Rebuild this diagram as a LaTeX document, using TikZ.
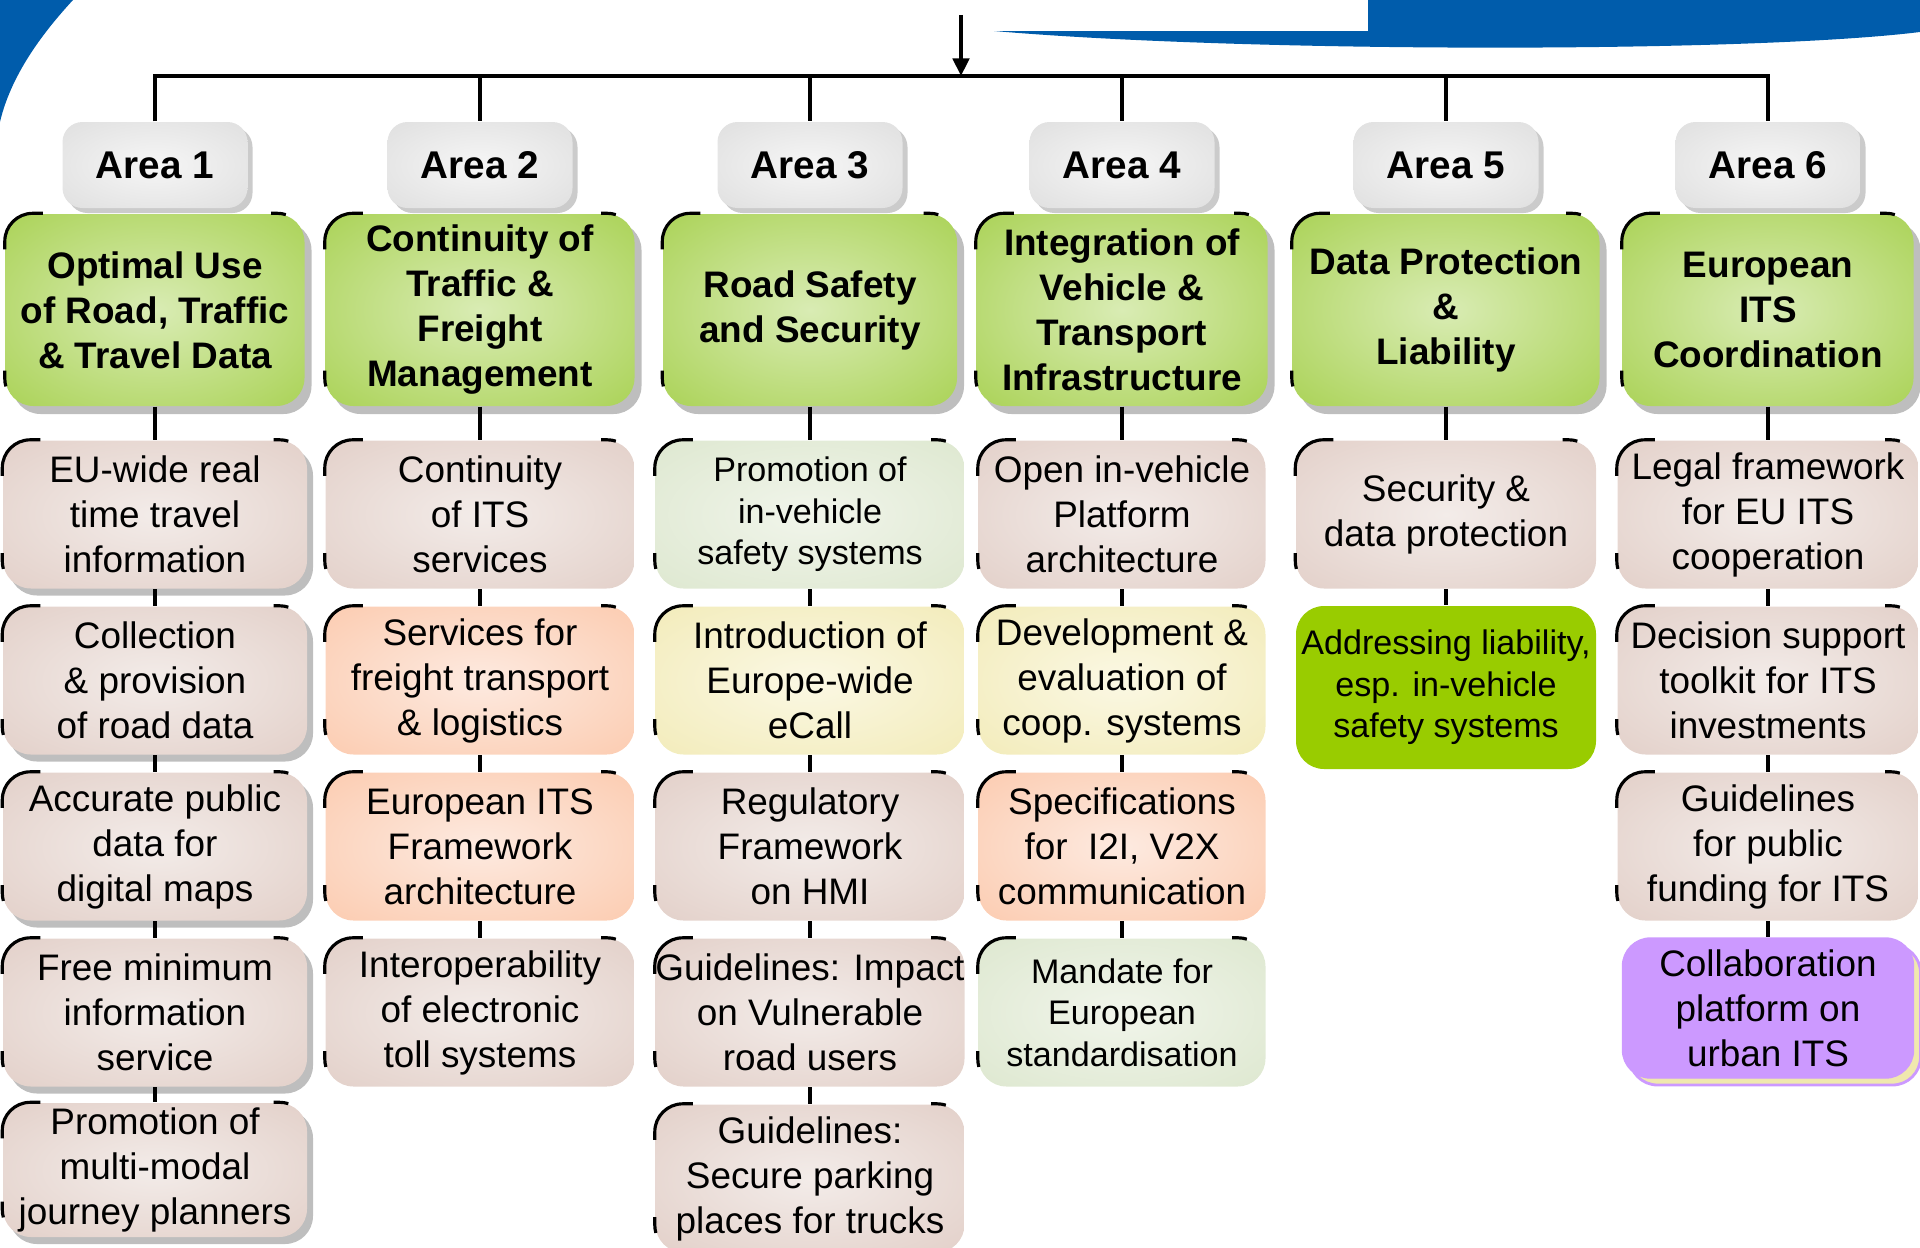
\documentclass[tikz,border=0pt]{standalone}
\usepackage{fontspec}
\setmainfont{Liberation Sans}
\usetikzlibrary{arrows.meta,calc,shadows}
\definecolor{swoosh}{HTML}{005CAB}
\definecolor{areaC}{HTML}{F6F6F6}
\definecolor{areaE}{HTML}{D9D9D9}
\definecolor{headC}{HTML}{D9ECB4}
\definecolor{headE}{HTML}{9DCB3C}
\definecolor{roseC}{HTML}{F3ECE9}
\definecolor{roseE}{HTML}{DEC8C0}
\definecolor{peachC}{HTML}{FDEAE0}
\definecolor{peachE}{HTML}{FBC3A3}
\definecolor{lemonC}{HTML}{FBF8E4}
\definecolor{lemonE}{HTML}{F0E8AE}
\definecolor{sageC}{HTML}{F1F5EB}
\definecolor{sageE}{HTML}{D8E4C8}
\definecolor{limefill}{HTML}{99CC00}
\definecolor{lilacfill}{HTML}{CC99FF}
\definecolor{shadowgrey}{HTML}{BEBEBE}
\newcommand{\lb}{\fontsize{10.5}{12.8}\selectfont}
\newcommand{\lbs}{\fontsize{9.7}{11.8}\selectfont}
\newcommand{\hb}{\bfseries\fontsize{10.5}{12.8}\selectfont}
\newcommand{\ab}{\bfseries\fontsize{11}{13}\selectfont}
% radial glows: pale in the middle, full colour towards the edges
\pgfdeclareradialshading{glowarea}{\pgfpoint{0bp}{0bp}}{color(0bp)=(areaC); color(46bp)=(areaE); color(75bp)=(areaE)}
\pgfdeclareradialshading{glowhead}{\pgfpoint{0bp}{0bp}}{color(0bp)=(headC); color(46bp)=(headE); color(75bp)=(headE)}
\pgfdeclareradialshading{glowrose}{\pgfpoint{0bp}{0bp}}{color(0bp)=(roseC); color(46bp)=(roseE); color(75bp)=(roseE)}
\pgfdeclareradialshading{glowpeach}{\pgfpoint{0bp}{0bp}}{color(0bp)=(peachC); color(46bp)=(peachE); color(75bp)=(peachE)}
\pgfdeclareradialshading{glowlemon}{\pgfpoint{0bp}{0bp}}{color(0bp)=(lemonC); color(46bp)=(lemonE); color(75bp)=(lemonE)}
\pgfdeclareradialshading{glowsage}{\pgfpoint{0bp}{0bp}}{color(0bp)=(sageC); color(46bp)=(sageE); color(75bp)=(sageE)}
% black bits of outline left on three corners of a box
\newcommand{\cornermarks}[1]{%
  \draw[cmark] ($(#1.north west)+(0,-0.36)$) -- ++(0,0.08) arc[start angle=180, end angle=90, radius=0.28] -- ++(0.1,0);
  \draw[cmark] ($(#1.north east)+(-0.34,0)$) -- ++(0.06,0) arc[start angle=90, end angle=72, radius=0.28];
  \draw[cmark] ($(#1.south west)+(0,0.36)$) -- ++(0,-0.08) arc[start angle=180, end angle=196, radius=0.28];}

\begin{document}
\begin{tikzpicture}[
  area/.style={rounded corners=0.2cm, shade, shading=glowarea, minimum width=1.85cm, minimum height=0.86cm, inner sep=0pt, font=\ab,
               drop shadow={shadow xshift=0.05cm, shadow yshift=-0.05cm, fill=shadowgrey!80, opacity=1}},
  head/.style={rounded corners=0.28cm, shade, shading=glowhead, minimum height=1.92cm, inner sep=0pt, align=center, font=\hb,
               drop shadow={shadow xshift=0.07cm, shadow yshift=-0.08cm, fill=shadowgrey, opacity=1}},
  item/.style={rounded corners=0.28cm, shade, minimum height=1.48cm, inner sep=0pt, align=center, font=\lb},
  rose/.style={shading=glowrose},
  roseshad/.style={shading=glowrose, drop shadow={shadow xshift=0.06cm, shadow yshift=-0.07cm, fill=shadowgrey, opacity=1}},
  peach/.style={shading=glowpeach},
  lemon/.style={shading=glowlemon},
  sage/.style={shading=glowsage, font=\lbs},
  flat/.style={rounded corners=0.28cm, inner sep=0pt, align=center},
  link/.style={line width=1.2pt},
  cmark/.style={line width=0.9pt},
  >={Triangle[length=5pt,width=4.6pt]}]
\useasboundingbox (0,0) rectangle (19.2,-12.47);

% ================================================================== slide background
\fill[swoosh] (0,0) -- (0.73,0) .. controls (0.5,-0.25) and (0.12,-0.7) .. (0,-1.22) -- cycle;
\fill[swoosh] (9.94,-0.31) -- (13.68,-0.31) -- (13.68,0) -- (19.2,0) -- (19.2,-0.32)
  .. controls (17.5,-0.53) and (12.5,-0.53) .. (9.94,-0.31) -- cycle;

% ================================================================== the six areas
\foreach \i/\x in {1/1.55,2/4.80,3/8.10,4/11.22,5/14.46,6/17.68}{
  \coordinate (col\i) at (\x,0);
  \node[area] (a\i) at (\x,-1.65) {Area \i};
}
\coordinate (feed) at (9.61,-0.15);
\coordinate (hub) at (9.61,-0.76);
\draw[line width=1.4pt] (a1.north) -- (a1.north |- hub) -- (a6.north |- hub) -- (a6.north);
\foreach \i in {2,...,5}{ \draw[link] (a\i.north |- hub) -- (a\i.north); }
\draw[link, ->] (feed) -- (hub);

% headings
\foreach \i/\w/\t in {
  1/2.99/{Optimal Use\\of Road, Traffic\\\& Travel Data},
  2/3.09/{Continuity of\\Traffic \&\\Freight\\Management},
  3/2.94/{Road Safety\\and Security},
  4/2.91/{Integration of\\Vehicle \&\\Transport\\Infrastructure},
  5/3.07/{Data Protection\\\&\\Liability},
  6/2.91/{European\\ITS\\Coordination}}{
  \node[head, minimum width=\w cm] (c\i-0) at (col\i |- 0,-3.10) {\t};
}

% ================================================================== actions under each area
\foreach \c/\r/\k/\t in {
  1/1/roseshad/{EU-wide real\\time travel\\information},
  1/2/roseshad/{Collection\\\& provision\\of road data},
  1/3/roseshad/{Accurate public\\data for\\digital maps},
  1/4/roseshad/{Free minimum\\information\\service},
  2/1/rose/{Continuity\\of ITS\\services},
  2/2/peach/{Services for\\freight transport\\\& logistics},
  2/3/peach/{European ITS\\Framework\\architecture},
  2/4/rose/{Interoperability\\of electronic\\toll systems},
  3/1/sage/{Promotion of\\in-vehicle\\safety systems},
  3/2/lemon/{Introduction of\\Europe-wide\\eCall},
  3/3/rose/{Regulatory\\Framework\\on HMI},
  3/4/rose/{Guidelines: Impact\\on Vulnerable\\road users},
  3/5/rose/{Guidelines:\\Secure parking\\places for trucks},
  4/1/rose/{Open in-vehicle\\Platform\\architecture},
  4/2/lemon/{Development \&\\evaluation of\\coop. systems},
  4/3/peach/{Specifications\\for\ \ I2I, V2X\\communication},
  4/4/sage/{Mandate for\\European\\standardisation},
  5/1/rose/{Security \&\\data protection},
  6/1/rose/{Legal framework\\for EU ITS\\cooperation},
  6/2/rose/{Decision support\\toolkit for ITS\\investments},
  6/3/rose/{Guidelines\\for public\\funding for ITS}}{
  \pgfmathsetmacro{\w}{{3.04,3.09,3.09,2.87,3.00,3.01}[\c-1]}
  \pgfmathsetmacro{\y}{-5.145-1.66*(\r-1)}
  \node[item, \k, minimum width=\w cm] (c\c-\r) at (col\c |- 0,\y) {\t};
}
\node[item, roseshad, minimum width=3.04cm, minimum height=1.34cm] (c1-5) at (col1 |- 0,-11.70)
     {Promotion of\\multi-modal\\journey planners};
\node[flat, fill=limefill, font=\lbs, minimum width=3.0cm, minimum height=1.63cm] (c5-2) at (col5 |- 0,-6.875)
     {Addressing liability,\\esp. in-vehicle\\safety systems};
\node[flat, fill=lilacfill, draw=lilacfill, font=\lb, minimum width=2.91cm, minimum height=1.40cm,
      drop shadow={shadow xshift=0.07cm, shadow yshift=-0.07cm, fill=lemonE, draw=lilacfill, line width=0.8pt, opacity=1}]
     (c6-4) at (col6 |- 0,-10.08) {Collaboration\\platform on\\urban ITS};

% links down each column
\foreach \c/\n in {1/5,2/4,3/5,4/4,5/2,6/4}{
  \foreach \r in {1,...,\n}{
    \pgfmathtruncatemacro{\p}{\r-1}
    \draw[link] (c\c-\p.south) -- (c\c-\r.north);
  }
}
\foreach \c/\n in {1/5,2/4,3/5,4/4,5/1,6/3}{
  \foreach \r in {0,...,\n}{ \cornermarks{c\c-\r} }
}
\end{tikzpicture}
\end{document}
